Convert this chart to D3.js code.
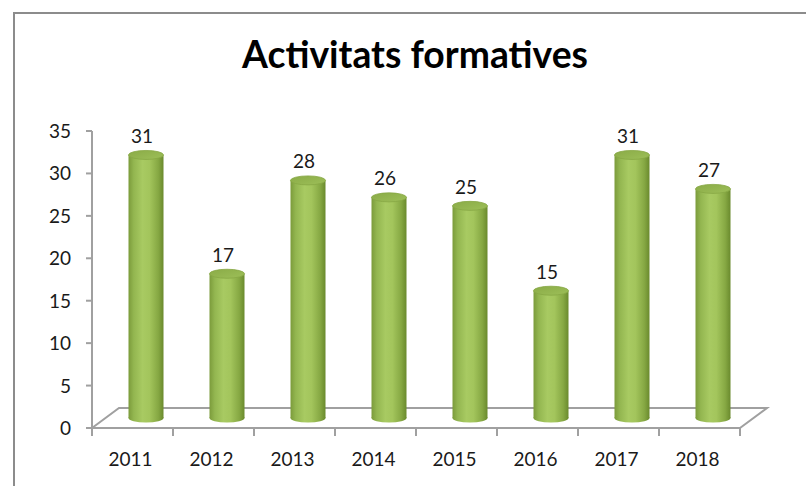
<!DOCTYPE html>
<html>
<head>
<meta charset="utf-8">
<script src="https://cdn.jsdelivr.net/npm/d3@7"></script>
<style>
  body { margin: 0; background: #fff; }
  text { font-family: Lato, "Open Sans", sans-serif; fill: #1a1a1a; }
</style>
</head>
<body>
<script>
const years = ['2011', '2012', '2013', '2014', '2015', '2016', '2017', '2018'];
const activitats = [31, 17, 28, 26, 25, 15, 31, 27];
const yTicks = [0, 5, 10, 15, 20, 25, 30, 35];

const W = 806, H = 486;
const depthX = 27, depthY = 20; // floor depth offset

const svg = d3.select('body').append('svg')
  .attr('width', W).attr('height', H);

// outer chart frame (cut off at the right and bottom)
svg.append('path')
  .attr('d', `M14,${H} L14,13 L${W},13`)
  .attr('fill', 'none')
  .attr('stroke', '#8c8c8c')
  .attr('stroke-width', 2);

svg.append('text')
  .attr('x', 415).attr('y', 68)
  .attr('text-anchor', 'middle')
  .attr('textLength', 346)
  .attr('lengthAdjust', 'spacingAndGlyphs')
  .style('font-size', '38px')
  .style('font-weight', 'bold')
  .style('fill', '#000')
  .text('Activitats formatives');

const x = d3.scaleBand().domain(years).range([92, 740]);
const y = d3.scaleLinear().domain([0, 35]).range([428, 131]);

const defs = svg.append('defs');
const bodyGrad = defs.append('linearGradient').attr('id', 'cyl')
  .attr('x1', 0).attr('x2', 1).attr('y1', 0).attr('y2', 0);
[[0, '#7b9b3b'], [0.15, '#93b650'], [0.4, '#a8ca62'], [0.6, '#a3c55c'], [0.85, '#86a843'], [1, '#6a8a2d']]
  .forEach(s => bodyGrad.append('stop').attr('offset', s[0]).attr('stop-color', s[1]));
const topGrad = defs.append('linearGradient').attr('id', 'cyltop')
  .attr('x1', 0).attr('x2', 1).attr('y1', 0).attr('y2', 1);
[[0, '#8aab47'], [1, '#9dbf58']]
  .forEach(s => topGrad.append('stop').attr('offset', s[0]).attr('stop-color', s[1]));

const grey = '#a0a0a0';
const axes = svg.append('g').attr('fill', 'none').attr('stroke', grey).attr('stroke-width', 2);

// 3D floor
axes.append('path')
  .attr('d', `M${x.range()[0]},${y(0)} L${x.range()[0] + depthX},${y(0) - depthY} L${x.range()[1] + depthX},${y(0) - depthY} L${x.range()[1]},${y(0)}`);

// y axis
axes.append('line')
  .attr('x1', 92).attr('x2', 92).attr('y1', y(35)).attr('y2', y(0));
axes.selectAll('.yt').data(yTicks).enter().append('line')
  .attr('x1', 86).attr('x2', 92)
  .attr('y1', d => y(d)).attr('y2', d => y(d));
svg.selectAll('.ylab').data(yTicks).enter().append('text')
  .attr('x', 71).attr('y', d => y(d) + 7)
  .attr('text-anchor', 'end')
  .style('font-size', '19px')
  .text(d => d);

// x axis
axes.append('line')
  .attr('x1', x.range()[0]).attr('x2', x.range()[1])
  .attr('y1', y(0)).attr('y2', y(0));
const bounds = years.map(d => x(d)).concat([x.range()[1]]);
axes.selectAll('.xt').data(bounds).enter().append('line')
  .attr('x1', d => d).attr('x2', d => d)
  .attr('y1', y(0)).attr('y2', y(0) + 8);
svg.selectAll('.xlab').data(years).enter().append('text')
  .attr('x', d => x(d) + x.bandwidth() / 2 - 2)
  .attr('y', 466)
  .attr('text-anchor', 'middle')
  .style('font-size', '19px')
  .text(d => d);

// cylinders
const rx = 17.5, ry = 4.5;
const cyl = svg.selectAll('.cyl').data(years.map((d, i) => ({ year: d, v: activitats[i] })))
  .enter().append('g');
const cx = d => x(d.year) + x.bandwidth() / 2 + depthX / 2;
const base = y(0) - depthY / 2;
const topY = d => y(d.v) - depthY / 2;

cyl.append('ellipse')
  .attr('cx', cx).attr('cy', base)
  .attr('rx', rx).attr('ry', ry)
  .attr('fill', 'url(#cyl)');
cyl.append('rect')
  .attr('x', d => cx(d) - rx).attr('width', rx * 2)
  .attr('y', topY).attr('height', d => base - topY(d))
  .attr('fill', 'url(#cyl)');
cyl.append('ellipse')
  .attr('cx', cx).attr('cy', topY)
  .attr('rx', rx).attr('ry', ry)
  .attr('fill', 'url(#cyltop)')
  .attr('stroke', '#86a744').attr('stroke-width', 0.8);

cyl.append('text')
  .attr('x', d => cx(d) - 4)
  .attr('y', d => topY(d) - 12)
  .attr('text-anchor', 'middle')
  .style('font-size', '19px')
  .text(d => d.v);
</script>
</body>
</html>
